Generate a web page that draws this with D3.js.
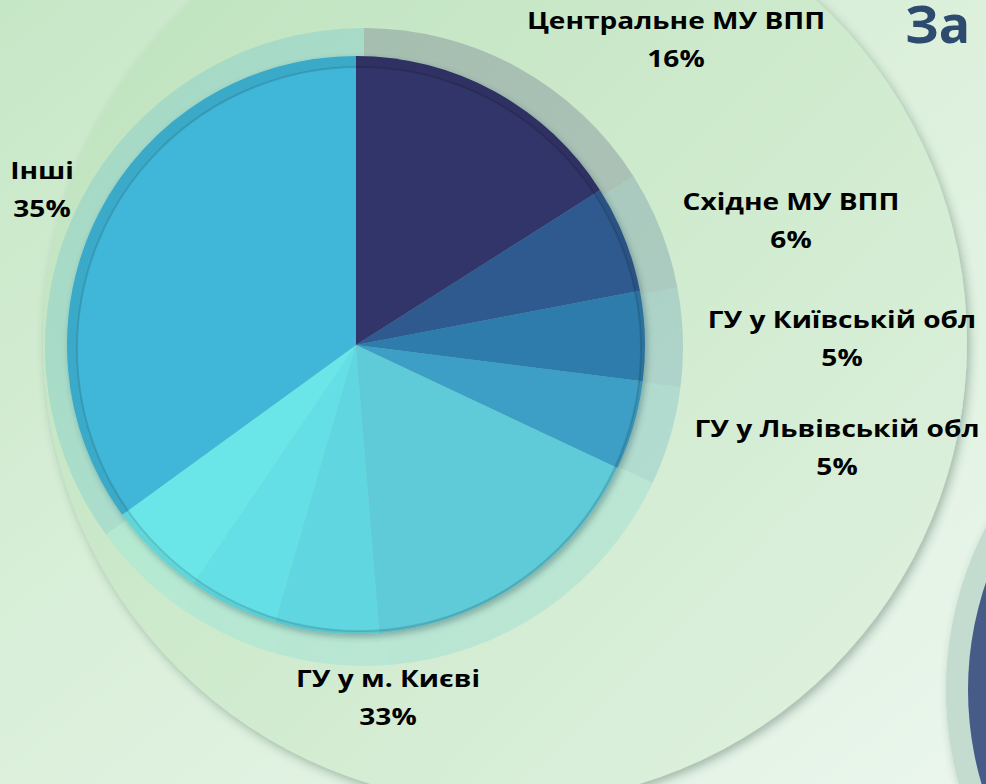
<!DOCTYPE html>
<html lang="uk">
<head>
<meta charset="UTF-8">
<title>Pie</title>
<script src="https://cdn.jsdelivr.net/npm/d3@7"></script>
<style>
html, body { margin: 0; padding: 0; overflow: hidden; }
#chart { width: 986px; height: 784px; }
text { font-family: "Open Sans", "Noto Sans", sans-serif; }
</style>
</head>
<body>
<div id="chart"></div>
<script>
// slices clockwise from 12 o'clock (the Kyiv city share is drawn as 4 pieces)
var sliceValues = [16, 6, 5, 5, 16.7, 5.8, 5, 5.5, 35];
var sliceColors = ['#30346b', '#2d5a8f', '#2d7bab', '#3c9fc5', '#5ecbd8', '#60d6e0', '#64dfe5', '#6be6e9', '#41b7d8'];

// labels as printed on the chart
var labelNames = ['Центральне МУ ВПП', 'Східне МУ ВПП', 'ГУ у Київській обл', 'ГУ у Львівській обл', 'ГУ у м. Києві', 'Інші'];
var labelShares = [16, 6, 5, 5, 33, 35];

var titleText = 'За видами';

window.onload = function () {
    var width = 986, height = 784;
    var cx = 356, cy = 345, R = 289;        // pie
    var rx = 364, ry = 347, R2 = 319;       // translucent ring behind
    // label anchors (centre x, first baseline)
    var labelPos = [[676, 29], [791, 210], [842, 328], [837, 437], [388, 687], [42, 179]];

    var svg = d3.select('#chart').append('svg')
        .attr('width', width).attr('height', height);
    var defs = svg.append('defs');

    var bg = defs.append('linearGradient').attr('id', 'bg')
        .attr('x1', 0).attr('y1', 0).attr('x2', 1).attr('y2', 1);
    bg.append('stop').attr('offset', 0).attr('stop-color', '#c6e7c6');
    bg.append('stop').attr('offset', 0.5).attr('stop-color', '#dcf0dc');
    bg.append('stop').attr('offset', 1).attr('stop-color', '#eaf6ec');

    var big = defs.append('linearGradient').attr('id', 'big')
        .attr('x1', 0).attr('y1', 0).attr('x2', 1).attr('y2', 1);
    big.append('stop').attr('offset', 0).attr('stop-color', '#bce2bb');
    big.append('stop').attr('offset', 0.55).attr('stop-color', '#d0ebcf');
    big.append('stop').attr('offset', 1).attr('stop-color', '#e2f2e2');

    var sh = defs.append('filter').attr('id', 'shadow')
        .attr('x', '-20%').attr('y', '-20%').attr('width', '140%').attr('height', '140%');
    sh.append('feDropShadow').attr('dx', 3).attr('dy', 4).attr('stdDeviation', 5)
        .attr('flood-color', '#2f4a3a').attr('flood-opacity', 0.35);

    var sh2 = defs.append('filter').attr('id', 'pieShadow')
        .attr('x', '-20%').attr('y', '-20%').attr('width', '140%').attr('height', '140%');
    sh2.append('feDropShadow').attr('dx', 2).attr('dy', 3).attr('stdDeviation', 3)
        .attr('flood-color', '#1d3a45').attr('flood-opacity', 0.35);

    svg.append('rect').attr('width', width).attr('height', height).attr('fill', 'url(#bg)');

    // decorative circles
    svg.append('circle').attr('cx', 505).attr('cy', 342).attr('r', 462)
        .attr('fill', 'url(#big)').attr('filter', 'url(#shadow)');
    svg.append('circle').attr('cx', 1300).attr('cy', 690).attr('r', 354)
        .attr('fill', '#c4dbd0').attr('filter', 'url(#shadow)');
    svg.append('circle').attr('cx', 1300).attr('cy', 690).attr('r', 332)
        .attr('fill', '#465b88');

    var pie = d3.pie().sort(null).value(function (d) { return d; });
    var arcs = pie(sliceValues);

    // translucent ring (bigger copy of the pie)
    var arc2 = d3.arc().innerRadius(0).outerRadius(R2);
    svg.append('g').attr('transform', 'translate(' + rx + ',' + ry + ')')
        .selectAll('path').data(arcs).enter().append('path')
        .attr('d', arc2)
        .attr('fill', function (d, i) { return sliceColors[i]; })
        .attr('fill-opacity', 0.22);

    var arc = d3.arc().innerRadius(0).outerRadius(R);
    var g = svg.append('g').attr('transform', 'translate(' + cx + ',' + cy + ')');
    g.append('g').attr('filter', 'url(#pieShadow)')
        .selectAll('path').data(arcs).enter().append('path')
        .attr('d', arc)
        .attr('fill', function (d, i) { return sliceColors[i]; });

    // bevel band along the rim
    var inner = d3.path();
    inner.arc(0, 0, R, 0, Math.PI * 2);
    inner.moveTo(3 + R - 7, 4);
    inner.arc(3, 4, R - 7, 0, Math.PI * 2);
    g.append('path').attr('d', inner.toString())
        .attr('fill-rule', 'evenodd').attr('fill', '#000').attr('fill-opacity', 0.07);
    g.append('circle').attr('cx', 3).attr('cy', 4).attr('r', R - 7)
        .attr('fill', 'none').attr('stroke', '#000').attr('stroke-opacity', 0.12).attr('stroke-width', 2);

    // labels (the slide text is stretched a little horizontally)
    var lab = svg.append('g').selectAll('text').data(labelNames).enter().append('text')
        .attr('text-anchor', 'middle')
        .attr('font-size', 24).attr('font-weight', 700).attr('fill', '#000')
        .attr('transform', function (d, i) {
            return 'translate(' + labelPos[i][0] + ',' + labelPos[i][1] + ') scale(1.17,1)';
        });
    lab.append('tspan').attr('x', 0).attr('y', 0).text(function (d) { return d; });
    lab.append('tspan').attr('x', 0).attr('y', 38).text(function (d, i) { return labelShares[i] + '%'; });

    svg.append('text').attr('x', 905).attr('y', 43)
        .attr('font-size', 52).attr('font-weight', 700).attr('fill', '#2d4b6f')
        .text(titleText);
};
</script>
</body>
</html>
